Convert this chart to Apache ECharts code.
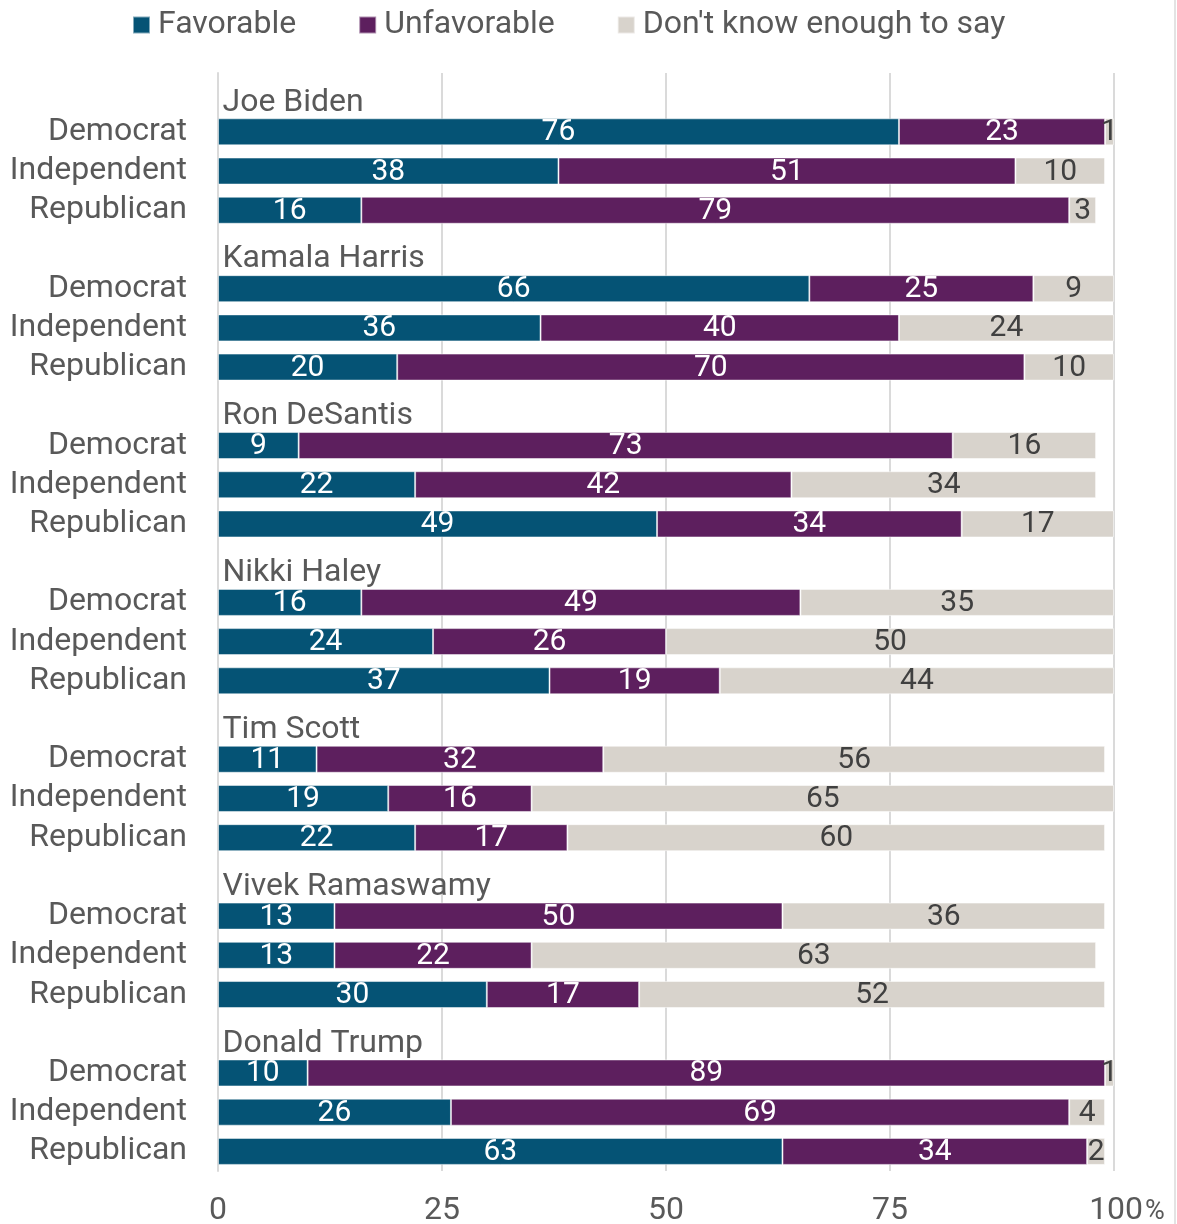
<!DOCTYPE html>
<html><head><meta charset="utf-8">
<script src="https://cdn.jsdelivr.net/npm/echarts/dist/echarts.min.js"></script>
<style>html,body{margin:0;padding:0;background:#fff}#c{width:1177px;height:1224px}</style>
</head><body><div id="c"></div><script>
// Data
const candidates = ['Joe Biden','Kamala Harris','Ron DeSantis','Nikki Haley','Tim Scott','Vivek Ramaswamy','Donald Trump'];
const parties = ['Democrat','Independent','Republican'];
const seriesNames = ['Favorable','Unfavorable',"Don't know enough to say"];
// per candidate: [Democrat, Independent, Republican]
const favorable   = [[76,38,16],[66,36,20],[9,22,49],[16,24,37],[11,19,22],[13,13,30],[10,26,63]];
const unfavorable = [[23,51,79],[25,40,70],[73,42,34],[49,26,19],[32,16,17],[50,22,17],[89,69,34]];
const dontKnow    = [[1,10,3],[9,24,10],[16,34,17],[35,50,44],[56,65,60],[36,63,52],[1,4,2]];
const xTicks = [0,25,50,75,100];

// Build category slots: one title slot + three party rows per candidate
const cats = [];
candidates.forEach(c => { cats.push(c); parties.forEach(p => cats.push(c + '|' + p)); });
function flat(arr){ const out=[]; arr.forEach(g => { out.push('-'); g.forEach(v => out.push(v)); }); return out; }

const colors = ['#055375','#5D1F5E','#D8D3CC'];
const labelColors = ['#ffffff','#ffffff','#404040'];
const FONT = 'Roboto';
const TXT = '#595959';

const barSeries = [favorable, unfavorable, dontKnow].map((d, i) => ({
  name: seriesNames[i],
  type: 'bar',
  stack: 'total',
  barWidth: 27,
  data: flat(d),
  itemStyle: { color: colors[i], borderColor: 'rgba(255,255,255,0.5)', borderWidth: 1 },
  label: { show: true, position: 'inside', color: labelColors[i], fontSize: 30, fontFamily: FONT, offset: [0, 1] },
  emphasis: { disabled: true },
  z: 3
}));

const titleSeries = {
  name: 'titles',
  type: 'scatter',
  symbol: 'rect',
  symbolSize: 1,
  itemStyle: { color: '#DADADA', opacity: 1 },
  data: candidates.map(c => [0, c]),
  label: { show: true, position: 'right', distance: 4, offset: [0, 10],
           formatter: p => p.data[1], color: TXT, opacity: 1, fontSize: 32, fontFamily: FONT },
  emphasis: { disabled: true },
  silent: true,
  z: 5
};

const chart = echarts.init(document.getElementById('c'), null, { renderer: 'canvas' });
chart.setOption({
  animation: false,
  backgroundColor: '#ffffff',
  textStyle: { fontFamily: FONT },
  legend: {
    data: seriesNames,
    left: 132, top: 9, padding: 0,
    icon: 'rect', itemWidth: 17, itemHeight: 17, itemGap: 62,
    textStyle: { fontSize: 32, color: TXT, fontFamily: FONT, padding: [0,0,0,3] },
    selectedMode: false
  },
  grid: { left: 218, right: 63, top: 73, bottom: 53, containLabel: false, outerBoundsMode: 'none' },
  xAxis: {
    type: 'value', min: xTicks[0], max: xTicks[xTicks.length-1], interval: 25,
    axisLine: { show: false }, axisTick: { show: false },
    splitLine: { show: true, lineStyle: { color: '#DADADA', width: 2 } },
    axisLabel: {
      fontSize: 32, color: TXT, margin: 24, fontFamily: FONT,
      formatter: v => v === 100 ? '{n|100}{p|%}' : String(v),
      rich: { n: { fontSize: 32, color: TXT, fontFamily: FONT, padding: [0,0,0,26] },
              p: { fontSize: 27, color: TXT, fontFamily: FONT, padding: [2,0,0,2] } }
    }
  },
  yAxis: {
    type: 'category', data: cats, inverse: true,
    axisLine: { show: true, lineStyle: { color: '#DADADA', width: 2 } },
    axisTick: { show: false },
    axisLabel: { fontSize: 32, color: TXT, margin: 31, fontFamily: FONT, interval: 0,
                 formatter: v => v.indexOf('|') >= 0 ? v.split('|')[1] : '' }
  },
  graphic: [
    { type: 'rect', shape: { x: 1174, y: 0, width: 2, height: 1224 }, style: { fill: '#E3E3E3' }, silent: true }
  ],
  series: barSeries.concat([titleSeries])
});
</script></body></html>
